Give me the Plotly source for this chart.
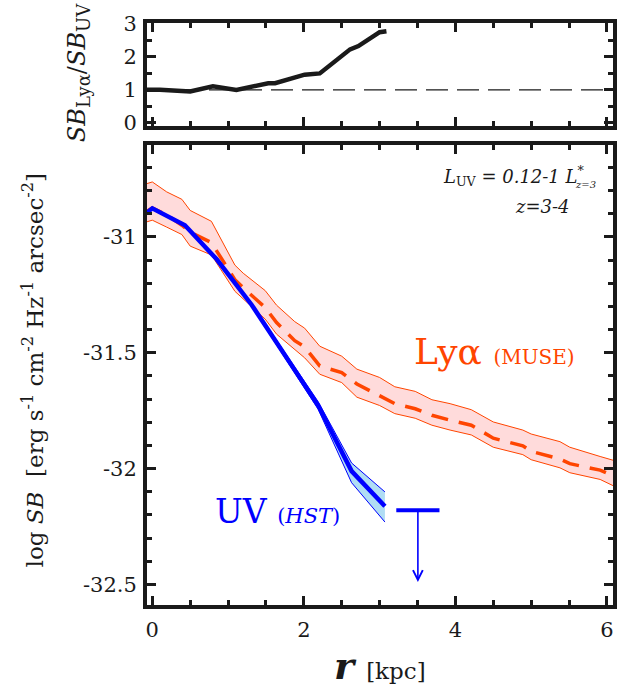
import plotly.graph_objects as go

# ---- radial profiles (r in kpc, log SB in erg s^-1 cm^-2 Hz^-1 arcsec^-2) ----
lya_r = [-0.07, 0.00, 0.19, 0.39, 0.50, 0.78, 1.09, 1.20, 1.49, 1.64, 1.88, 2.01,
         2.21, 2.50, 2.70, 3.00, 3.20, 3.47, 3.69, 3.93, 4.21, 4.50, 4.89, 5.00,
         5.38, 5.51, 5.91, 6.10]
lya_sb = [-30.890, -30.875, -30.905, -30.950, -30.980, -31.025, -31.185, -31.220,
          -31.305, -31.370, -31.448, -31.475, -31.557, -31.586, -31.635, -31.685,
          -31.720, -31.742, -31.770, -31.791, -31.813, -31.869, -31.902, -31.926,
          -31.959, -31.979, -32.007, -32.034]
lya_lo = [-30.935, -30.928, -30.958, -30.990, -31.040, -31.078, -31.235, -31.267,
          -31.355, -31.420, -31.486, -31.522, -31.593, -31.629, -31.692, -31.728,
          -31.763, -31.783, -31.813, -31.834, -31.855, -31.908, -31.940, -31.962,
          -31.997, -32.018, -32.047, -32.077]
lya_hi = [-30.770, -30.763, -30.806, -30.838, -30.886, -30.933, -31.122, -31.157,
          -31.232, -31.295, -31.366, -31.394, -31.472, -31.515, -31.571, -31.607,
          -31.647, -31.667, -31.703, -31.720, -31.746, -31.799, -31.834, -31.851,
          -31.884, -31.908, -31.948, -31.966]

uv_r = [-0.07, 0.00, 0.43, 0.85, 1.31, 2.19, 2.63, 3.07]
uv_sb = [-30.895, -30.877, -30.950, -31.097, -31.293, -31.728, -32.011, -32.163]
uv_lo = [-30.900, -30.882, -30.955, -31.103, -31.300, -31.745, -32.061, -32.231]
uv_hi = [-30.890, -30.872, -30.945, -31.091, -31.286, -31.712, -31.976, -32.101]

# UV upper limit beyond the last detected bin
uv_limit_r = [3.22, 3.79]
uv_limit_sb = -32.18
uv_limit_arrow_to = -32.49

# SB(Lya)/SB(UV) ratio
ratio_r = [-0.07, 0.10, 0.50, 0.80, 1.11, 1.29, 1.53, 1.62, 1.82, 2.01, 2.21, 2.52,
           2.61, 2.72, 3.00, 3.09]
ratio = [1.00, 1.00, 0.95, 1.11, 1.00, 1.08, 1.20, 1.20, 1.33, 1.46, 1.50, 2.08,
         2.23, 2.33, 2.75, 2.78]

# axis ticks
x_ticks = [0, 2, 4, 6]
x_ticktext = ["0", "2", "4", "6"]
y_ticks = [-32.5, -32.0, -31.5, -31.0]
y_ticktext = ["-32.5", "-32", "-31.5", "-31"]
ratio_ticks = [0, 1, 2, 3]
ratio_ticktext = ["0", "1", "2", "3"]

FONT = "DejaVu Serif"
INK = "#1a1a1a"
LYA = "#ff4500"
LYA_FILL = "rgba(255,200,200,0.65)"
UV = "#0000ff"
UV_FILL = "rgba(150,210,240,0.75)"

fig = go.Figure()

# Lya band + profile
fig.add_trace(go.Scatter(x=lya_r, y=lya_lo, mode="lines",
                         line=dict(color=LYA, width=1), xaxis="x", yaxis="y",
                         showlegend=False, hoverinfo="skip"))
fig.add_trace(go.Scatter(x=lya_r, y=lya_hi, mode="lines", fill="tonexty",
                         fillcolor=LYA_FILL, line=dict(color=LYA, width=1),
                         xaxis="x", yaxis="y", showlegend=False, hoverinfo="skip"))
fig.add_trace(go.Scatter(x=lya_r, y=lya_sb, mode="lines",
                         line=dict(color=LYA, width=3.5, dash="17px,11px"),
                         xaxis="x", yaxis="y", showlegend=False))

# UV band + profile
fig.add_trace(go.Scatter(x=uv_r, y=uv_lo, mode="lines",
                         line=dict(color=UV, width=1), xaxis="x", yaxis="y",
                         showlegend=False, hoverinfo="skip"))
fig.add_trace(go.Scatter(x=uv_r, y=uv_hi, mode="lines", fill="tonexty",
                         fillcolor=UV_FILL, line=dict(color=UV, width=1),
                         xaxis="x", yaxis="y", showlegend=False, hoverinfo="skip"))
fig.add_trace(go.Scatter(x=uv_r, y=uv_sb, mode="lines",
                         line=dict(color=UV, width=4.5),
                         xaxis="x", yaxis="y", showlegend=False))

# UV upper limit bar
fig.add_trace(go.Scatter(x=uv_limit_r, y=[uv_limit_sb] * len(uv_limit_r),
                         mode="lines", line=dict(color=UV, width=4),
                         xaxis="x", yaxis="y", showlegend=False))
limit_mid = sum(uv_limit_r) / len(uv_limit_r)
fig.add_annotation(x=limit_mid, y=uv_limit_arrow_to, ax=limit_mid, ay=uv_limit_sb,
                   xref="x", yref="y", axref="x", ayref="y", text="",
                   showarrow=True, arrowhead=5, arrowsize=1.2, arrowwidth=1.6,
                   arrowcolor=UV, standoff=0, startstandoff=0)

# ratio panel
fig.add_trace(go.Scatter(x=ratio_r, y=ratio, mode="lines",
                         line=dict(color=INK, width=4.5),
                         xaxis="x2", yaxis="y2", showlegend=False))
fig.add_shape(type="line", xref="x2 domain", yref="y2", x0=0, x1=1, y0=1, y1=1,
              line=dict(color=INK, width=1.2, dash="22px,9px"), layer="below")

axis_common = dict(
    showline=True, linecolor=INK, linewidth=4, mirror="allticks",
    ticks="inside", ticklen=9, tickwidth=2.5, tickcolor=INK,
    showgrid=False, zeroline=False,
    tickfont=dict(family=FONT, size=21, color=INK),
)
minor_common = dict(tickmode="linear", tick0=0, ticks="inside",
                    ticklen=5, tickwidth=2.5, tickcolor=INK)

fig.update_layout(
    width=633, height=696,
    margin=dict(l=147, r=20, t=14, b=91),
    paper_bgcolor="white", plot_bgcolor="white",
    xaxis=dict(axis_common, domain=[0, 1], range=[-0.07, 6.08],
               tickmode="array", tickvals=x_ticks, ticktext=x_ticktext,
               anchor="y", ticklabelstandoff=3,
               minor=dict(minor_common, dtick=0.5)),
    yaxis=dict(axis_common, domain=[0, 0.7902], range=[-32.589, -30.604],
               tickmode="array", tickvals=y_ticks, ticktext=y_ticktext,
               anchor="x", ticklabelstandoff=2,
               minor=dict(minor_common, dtick=0.1)),
    xaxis2=dict(axis_common, domain=[0, 1], range=[-0.07, 6.08],
                tickmode="array", tickvals=x_ticks, showticklabels=False,
                anchor="y2",
                minor=dict(minor_common, dtick=0.5)),
    yaxis2=dict(axis_common, domain=[0.8223, 1], range=[-0.11, 3.03],
                tickmode="array", tickvals=ratio_ticks, ticktext=ratio_ticktext,
                anchor="x2", ticklabelstandoff=2,
                minor=dict(minor_common, dtick=0.5)),
)

# axis titles
fig.add_annotation(xref="paper", yref="paper", x=-0.245, y=0.4027,
                   xanchor="center", yanchor="middle", textangle=-90, showarrow=False,
                   text="log <i>SB</i>  [erg s<sup>-1</sup> cm<sup>-2</sup> Hz<sup>-1</sup>"
                        " arcsec<sup>-2</sup>]",
                   font=dict(family=FONT, size=23, color=INK))
fig.add_annotation(xref="paper", yref="paper", x=-0.148, y=0.9138,
                   xanchor="center", yanchor="middle", textangle=-90, showarrow=False,
                   text="<i>SB</i><sub><span style='font-size:18px'>Lyα</span></sub>/"
                        "<i>SB</i><sub><span style='font-size:18px'>UV</span></sub>",
                   font=dict(family=FONT, size=24, color=INK))
fig.add_annotation(xref="paper", yref="paper", x=0.5, y=-0.1455,
                   xanchor="center", yanchor="bottom", showarrow=False,
                   text="<b><i>r</i></b> <span style='font-size:23px'>[kpc]</span>",
                   font=dict(family=FONT, size=38, color=INK))

# curve labels
fig.add_annotation(xref="paper", yref="paper", x=0.569, y=0.436,
                   xanchor="left", yanchor="middle", showarrow=False,
                   text="Lyα <span style='font-size:20px'>(MUSE)</span>",
                   font=dict(family=FONT, size=36, color=LYA))
fig.add_annotation(xref="paper", yref="paper", x=0.142, y=0.160,
                   xanchor="left", yanchor="middle", showarrow=False,
                   text="UV <span style='font-size:21px'>(<i>HST</i>)</span>",
                   font=dict(family=FONT, size=33, color=UV))

# sample description
fig.add_annotation(xref="paper", yref="paper", x=0.945, y=0.737,
                   xanchor="right", yanchor="middle", showarrow=False,
                   text="<i>L</i><sub>UV</sub> = <i>0.12-1 L</i><sup>*</sup>",
                   font=dict(family=FONT, size=18, color=INK))
fig.add_annotation(xref="paper", yref="paper", x=0.968, y=0.722,
                   xanchor="right", yanchor="middle", showarrow=False,
                   text="<i>z=3</i>",
                   font=dict(family=FONT, size=10, color=INK))
fig.add_annotation(xref="paper", yref="paper", x=0.912, y=0.684,
                   xanchor="right", yanchor="middle", showarrow=False,
                   text="<i>z=3-4</i>",
                   font=dict(family=FONT, size=18, color=INK))

fig.write_html("out.html")
